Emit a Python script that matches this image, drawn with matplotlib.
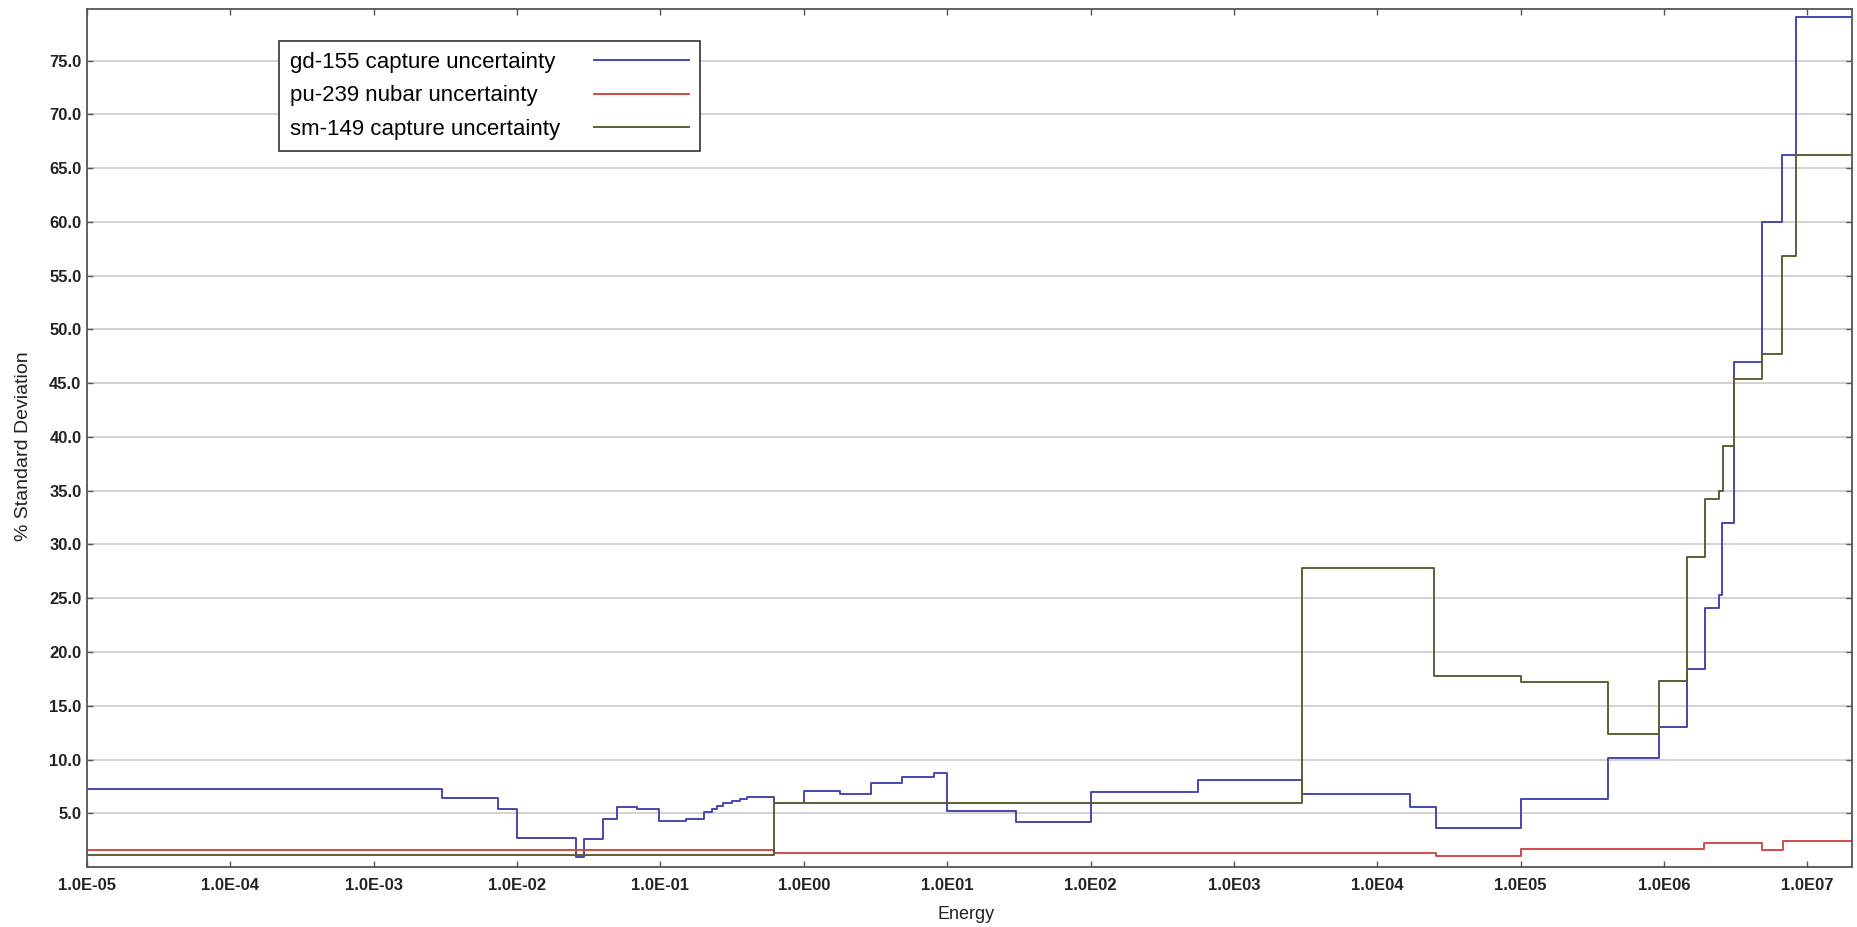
import matplotlib
matplotlib.use("Agg")
import matplotlib.pyplot as plt
from matplotlib.ticker import FixedLocator, FixedFormatter

plt.rcParams['font.family'] = ['Liberation Sans', 'DejaVu Sans']

# energie (eV) -> limites de grupo e desvio padrao (%)
gd_edges = [1e-5, 3.0e-3, 7.4e-3, 1.0e-2, 2.57e-2, 2.95e-2, 4.0e-2, 5.0e-2, 6.9e-2,
            0.097, 0.151, 0.20, 0.229, 0.248, 0.273, 0.315, 0.36, 0.40, 0.62, 1.0,
            1.78, 2.96, 4.84, 8.05, 10.0, 30.0, 100.0, 565.0, 3.0e3, 1.68e4, 2.55e4,
            1.0e5, 4.1e5, 9.2e5, 1.44e6, 1.92e6, 2.42e6, 2.55e6, 3.1e6, 4.85e6,
            6.7e6, 8.3e6, 2.05e7]
gd_values = [7.3, 6.38, 5.39, 2.67, 0.9, 2.6, 4.46, 5.55, 5.39, 4.24, 4.46, 5.08,
             5.39, 5.7, 5.92, 6.16, 6.32, 6.47, 5.92, 7.06, 6.78, 7.8, 8.33, 8.74,
             5.17, 4.21, 7.0, 8.11, 6.78, 5.55, 3.6, 6.3, 10.1, 13.0, 18.4, 24.1,
             25.3, 32.0, 47.0, 60.0, 66.2, 79.05]

pu_edges = [1e-5, 0.62, 2.55e4, 1.0e5, 1.9e6, 4.85e6, 6.8e6, 2.05e7]
pu_values = [1.6, 1.27, 1.05, 1.63, 2.23, 1.6, 2.45]

sm_edges = [1e-5, 0.62, 3.0e3, 2.5e4, 1.0e5, 4.1e5, 9.2e5, 1.44e6, 1.92e6, 2.42e6,
            2.6e6, 3.1e6, 4.85e6, 6.7e6, 8.3e6, 2.05e7]
sm_values = [1.15, 5.95, 27.8, 17.8, 17.2, 12.4, 17.3, 28.8, 34.2, 35.0, 39.2,
             45.35, 47.7, 56.8, 66.2]

labels = ["gd-155 capture uncertainty", "pu-239 nubar uncertainty",
          "sm-149 capture uncertainty"]
colors = ["#4646b4", "#d24a4a", "#5f5f32"]

x_ticks = [10.0 ** e for e in range(-5, 8)]
x_tick_labels = ["1.0E-05", "1.0E-04", "1.0E-03", "1.0E-02", "1.0E-01", "1.0E00",
                 "1.0E01", "1.0E02", "1.0E03", "1.0E04", "1.0E05", "1.0E06", "1.0E07"]
y_ticks = [5.0 * i for i in range(1, 16)]

fig = plt.figure(figsize=(18.58, 9.27), dpi=100)
ax = fig.add_axes([0.0468, 0.0647, 0.95, 0.9256])

series = [(gd_edges, gd_values), (pu_edges, pu_values), (sm_edges, sm_values)]
for (edges, vals), lab, col in zip(series, labels, colors):
    ax.step(edges, vals + [vals[-1]], where='post', color=col, lw=1.4, label=lab)

ax.set_xscale('log')
ax.set_xlim(1e-5, 2.05e7)
ax.set_ylim(0, 79.8)

ax.xaxis.set_major_locator(FixedLocator(x_ticks))
ax.xaxis.set_major_formatter(FixedFormatter(x_tick_labels))
ax.xaxis.set_minor_locator(FixedLocator([]))
ax.set_yticks(y_ticks)
ax.set_yticklabels(["%.1f" % v for v in y_ticks])

ax.grid(axis='y', color='#cfcfcf', lw=1.3)
ax.set_axisbelow(True)

ax.tick_params(axis='both', direction='in', length=4, width=1, color='#555555',
               top=True, right=True, labelsize=12, labelcolor='#222222')
ax.tick_params(axis='x', pad=8)
ax.tick_params(axis='y', pad=4)
for lbl in ax.get_xticklabels() + ax.get_yticklabels():
    lbl.set_fontweight('bold')

for s in ax.spines.values():
    s.set_color('#555555')
    s.set_linewidth(1.3)

ax.set_xlabel("Energy", fontsize=13, color='#222222')
ax.xaxis.set_label_coords(0.498, -0.045)
ax.set_ylabel("% Standard Deviation", fontsize=14, color='#222222')
ax.yaxis.set_label_coords(-0.031, 0.49)

leg = ax.legend(loc='upper left', bbox_to_anchor=(0.1088, 0.9627), borderaxespad=0,
                fontsize=16, markerfirst=False, handlelength=4.3, fancybox=False,
                framealpha=1, edgecolor='#333333', labelspacing=0.55,
                borderpad=0.5, handletextpad=1.5)
leg.get_frame().set_linewidth(1.2)

# texto alinhado a esquerda, linhas alinhadas a direita
fig.canvas.draw()
r = fig.canvas.get_renderer()
widths = [t.get_window_extent(r).width for t in leg.get_texts()]
col_box = leg._legend_handle_box.get_children()[0]
for row, w in zip(col_box.get_children(), widths):
    row.sep += (max(widths) - w) * 72.0 / fig.dpi

plt.savefig('out.png', dpi=100)
